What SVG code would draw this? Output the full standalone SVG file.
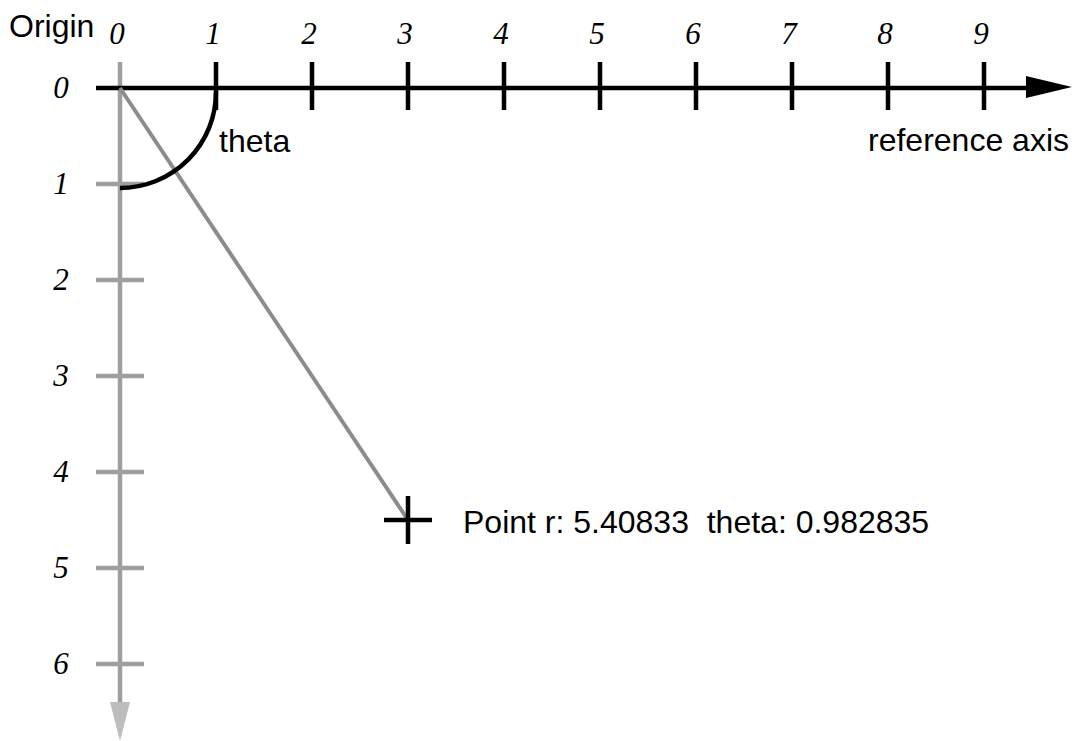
<svg xmlns="http://www.w3.org/2000/svg" width="1076" height="741" viewBox="0 0 1076 741">
<style>
.num{font-family:"Liberation Serif",serif;font-style:italic;font-size:31px;fill:#000;text-anchor:middle}
.lbl{font-family:"Liberation Sans",Arial,sans-serif;font-size:32px;fill:#000}
.ax{stroke:#000;stroke-width:4.5;fill:none}
.gax{stroke:#9e9e9e;stroke-width:4.5;fill:none}
</style>
<rect width="1076" height="741" fill="#fff"/>
<g id="y-axis">
<line class="gax" x1="120" y1="62" x2="120" y2="704"/>
<polygon points="110,702 130,702 120,741" fill="#bdbdbd"/>
<path class="gax" d="M96 184H144M96 280H144M96 376H144M96 472H144M96 568H144M96 664H144"/>
</g>
<g id="x-axis">
<line class="ax" x1="96" y1="88" x2="1030" y2="88"/>
<polygon points="1026,76 1072,87 1026,98" fill="#000"/>
<path class="ax" d="M216 62V110M312 62V110M408 62V110M504 62V110M600 62V110M696 62V110M792 62V110M888 62V110M984 62V110"/>
</g>
<g id="connectors">
<line x1="120" y1="88" x2="408" y2="520" stroke="#8c8c8c" stroke-width="4"/>
<path class="ax" d="M216 92A96 96 0 0 1 120 188"/>
</g>
<g id="point">
<path class="ax" d="M384 520H432M408 496V544"/>
</g>
<g id="labels">
<text class="lbl" x="9" y="37">Origin</text>
<text class="num" x="117" y="44">0</text>
<text class="num" x="213" y="44">1</text>
<text class="num" x="309" y="44">2</text>
<text class="num" x="405" y="44">3</text>
<text class="num" x="501" y="44">4</text>
<text class="num" x="597" y="44">5</text>
<text class="num" x="693" y="44">6</text>
<text class="num" x="789" y="44">7</text>
<text class="num" x="885" y="44">8</text>
<text class="num" x="981" y="44">9</text>
<text class="num" x="61" y="98">0</text>
<text class="num" x="61" y="194">1</text>
<text class="num" x="61" y="290">2</text>
<text class="num" x="61" y="386">3</text>
<text class="num" x="61" y="482">4</text>
<text class="num" x="61" y="578">5</text>
<text class="num" x="61" y="674">6</text>
<text class="lbl" x="219" y="152" font-size="31">theta</text>
<text class="lbl" x="868" y="151">reference axis</text>
<text class="lbl" x="463" y="533" xml:space="preserve">Point r: 5.40833  theta: 0.982835</text>
</g>
</svg>
